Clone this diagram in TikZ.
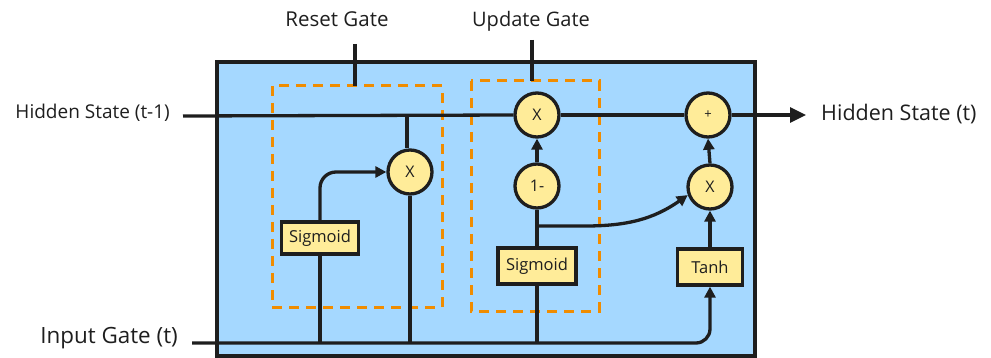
\documentclass[tikz,border=0pt]{standalone}
\usepackage{fontspec}
\setmainfont{Open Sans}
\usetikzlibrary{arrows.meta}
\definecolor{strk}{HTML}{1E1E1E}
\definecolor{bluefill}{HTML}{A5D8FF}
\definecolor{yelfill}{HTML}{FFEC99}
\definecolor{gateor}{HTML}{F08C00}
\tikzset{
  wire/.style={draw=strk, line width=3.3pt},
  arr/.style={wire, -{Triangle[length=11pt,width=11pt]}},
  opnode/.style={circle, draw=strk, fill=yelfill, line width=3.3pt, minimum size=44pt, inner sep=0pt, font=\fontsize{16}{18}\selectfont, text=strk},
  fnbox/.style={rectangle, draw=strk, fill=yelfill, line width=3.3pt, inner sep=0pt, font=\fontsize{16.5}{19}\selectfont, text=strk},
  gatebox/.style={draw=gateor, line width=3pt, dash pattern=on 10pt off 7pt},
  lbl/.style={text=strk, inner sep=0pt},
}
\begin{document}
\begin{tikzpicture}[x=1pt,y=-1pt]
\useasboundingbox (0,0) rectangle (991,358);
% cell
\draw[wire, fill=bluefill] (217,62) rectangle (755,356);
% gates
\draw[gatebox] (272,86) rectangle (442,307);
\draw[gatebox] (471,81) rectangle (599,311);
% labels
\node[lbl, font=\fontsize{20.5}{24}\selectfont] (rgl) at (337,19) {Reset Gate};
\node[lbl, font=\fontsize{20}{24}\selectfont] (ugl) at (531,21) {Update Gate};
\coordinate (rgs) at (355,44);
\coordinate (ugs) at (532,40);
\draw[wire] (rgs) -- (355,86);
\draw[wire] (ugs) -- (532,81);
\node[lbl, font=\fontsize{19}{22}\selectfont, anchor=east] (hin) at (170,113) {Hidden State (t-1)};
\node[lbl, font=\fontsize{21.5}{25}\selectfont, anchor=west] (hout) at (821,114) {Hidden State (t)};
\node[lbl, font=\fontsize{22.4}{26}\selectfont, anchor=east] (xin) at (178,338) {Input Gate (t)};
% nodes
\node[opnode] (x1) at (410,172) {X};
\node[fnbox, minimum width=77pt, minimum height=32pt] (s1) at (320,238) {Sigmoid};
\node[opnode] (ux) at (537,115) {X};
\node[opnode] (om) at (537,186) {1-};
\node[fnbox, minimum width=78pt, minimum height=36pt] (s2) at (537,266) {Sigmoid};
\node[opnode, font=\fontsize{13}{15}\selectfont] (pl) at (708,115) {+};
\node[opnode] (x2) at (710,187) {X};
\node[fnbox, minimum width=65pt, minimum height=36pt] (th) at (710,267) {Tanh};
% coordinates
\coordinate (hs) at (183,116);
\coordinate (ho) at (806,115);
\coordinate (is) at (192,343);
\coordinate (ht) at (407,116);
\coordinate (br) at (537,226);
% hidden state path
\draw[wire] (hs) -- (ux.west);
\draw[wire] (ux.east) -- (pl.west);
\draw[wire, -{Triangle[length=16pt,width=15pt]}] (pl.east) -- (ho);
\draw[wire] (ht) -- (x1.north -| ht);
% input path
\draw[arr, rounded corners=14pt] (is) -| (th.south);
\draw[wire] (s1.south) -- (s1.south |- is);
\draw[wire] (x1.south) -- (x1.south |- is);
\draw[wire] (s2.south) -- (s2.south |- is);
% reset gate
\draw[arr, rounded corners=16pt] (s1.north) |- (x1.west);
% update gate
\draw[wire] (s2.north) -- (om.south);
\draw[arr] (om.north) -- (ux.south);
\draw[arr] (br) -- (585,226) to[out=0,in=215] (x2.200);
\draw[arr] (th.north) -- (x2.south);
\draw[arr] (x2.north) -- (pl.south);
\end{tikzpicture}
\end{document}
